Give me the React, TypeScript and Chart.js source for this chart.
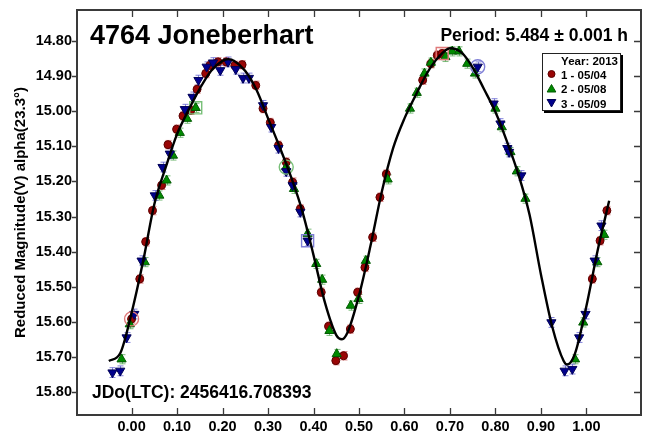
import React, { useEffect, useRef } from "react";
import { Chart, registerables } from "chart.js";

Chart.register(...registerables);

// ---------- axis setup ----------
const X_MIN = -0.12;
const X_MAX = 1.12;
const Y_MIN = 14.711;
const Y_MAX = 15.866;
const X_TICKS = [0, 0.1, 0.2, 0.3, 0.4, 0.5, 0.6, 0.7, 0.8, 0.9, 1.0];
const Y_TICKS = [14.8, 14.9, 15.0, 15.1, 15.2, 15.3, 15.4, 15.5, 15.6, 15.7, 15.8];

// ---------- texts ----------
const TITLE = "4764 Joneberhart";
const PERIOD_TEXT = "Period: 5.484 \u00b1 0.001 h";
const JD_TEXT = "JDo(LTC): 2456416.708393";
const Y_TITLE = "Reduced Magnitude(V) alpha(23.3\u00b0)";
const LEGEND_TITLE = "Year: 2013";
const SERIES_NAMES = ["1 - 05/04", "2 - 05/08", "3 - 05/09"];

// ---------- fitted curve ----------
const CURVE_PHASE = [
  -0.05, -0.025, 0.0, 0.025, 0.05, 0.075, 0.1, 0.125, 0.15, 0.175, 0.2, 0.2125, 0.225, 0.25,
  0.275, 0.3, 0.325, 0.35, 0.375, 0.4, 0.425, 0.45, 0.4625, 0.475, 0.5, 0.525, 0.55, 0.575,
  0.6, 0.625, 0.65, 0.675, 0.7, 0.725, 0.75, 0.775, 0.8, 0.825, 0.85, 0.875, 0.9, 0.925,
  0.95, 0.9575, 0.975, 1.0, 1.025, 1.05,
];
const CURVE_MAG = [
  15.712, 15.69, 15.575, 15.43, 15.265, 15.16, 15.065, 14.997, 14.935, 14.884, 14.856, 14.851,
  14.856, 14.885, 14.94, 15.02, 15.1, 15.185, 15.283, 15.41, 15.545, 15.638, 15.65, 15.63,
  15.525, 15.385, 15.23, 15.105, 15.02, 14.953, 14.89, 14.845, 14.82, 14.832, 14.875, 14.937,
  15.002, 15.085, 15.178, 15.295, 15.465, 15.615, 15.712, 15.722, 15.69, 15.555, 15.395, 15.255,
];

// ---------- series 1 : 05/04 ----------
const S1_PHASE = [
  0.0, 0.018, 0.031, 0.046, 0.066, 0.08, 0.099, 0.113, 0.13, 0.144, 0.163, 0.172, 0.19, 0.208,
  0.227, 0.243, 0.273, 0.289, 0.305, 0.323, 0.34, 0.354, 0.371, 0.417, 0.433, 0.449, 0.466,
  0.481, 0.497, 0.513, 0.53, 0.546, 0.56, 0.64, 0.658, 0.672, 0.683, 1.013, 1.03, 1.045,
];
const S1_MAG = [
  15.592, 15.478, 15.372, 15.283, 15.211, 15.095, 15.051, 15.013, 14.997, 14.937, 14.892, 14.869,
  14.859, 14.859, 14.869, 14.867, 14.926, 14.992, 15.032, 15.097, 15.145, 15.202, 15.278, 15.516,
  15.613, 15.711, 15.697, 15.621, 15.516, 15.445, 15.359, 15.245, 15.179, 14.911, 14.864, 14.84,
  14.835, 15.478, 15.369, 15.283,
];
const S1_ERR = 0.012;

// ---------- series 2 : 05/08 ----------
const S2_PHASE = [
  -0.022, -0.004, 0.029, 0.061, 0.077, 0.091, 0.106, 0.122, 0.141, 0.34, 0.357, 0.387, 0.406,
  0.419, 0.435, 0.451, 0.482, 0.499, 0.515, 0.563, 0.612, 0.627, 0.644, 0.658, 0.69, 0.705,
  0.72, 0.738, 0.755, 0.8, 0.814, 0.833, 0.847, 0.866, 0.975, 0.993, 1.024, 1.039,
];
const S2_MAG = [
  15.707, 15.607, 15.43, 15.24, 15.197, 15.126, 15.061, 15.021, 14.99, 15.159, 15.221, 15.349,
  15.435, 15.48, 15.626, 15.692, 15.554, 15.535, 15.426, 15.194, 14.992, 14.947, 14.892, 14.861,
  14.845, 14.829, 14.829, 14.864, 14.892, 14.992, 15.045, 15.116, 15.171, 15.249, 15.707, 15.602,
  15.43, 15.352,
];
const S2_ERR = 0.013;

// ---------- series 3 : 05/09 ----------
const S3_PHASE = [
  -0.042, -0.025, -0.011, 0.006, 0.022, 0.051, 0.068, 0.084, 0.117, 0.134, 0.147, 0.165, 0.179,
  0.195, 0.212, 0.229, 0.245, 0.258, 0.289, 0.307, 0.323, 0.34, 0.354, 0.371, 0.387, 0.761,
  0.796, 0.811, 0.826, 0.83, 0.857, 0.923, 0.952, 0.969, 0.984, 0.998, 1.018, 1.033,
];
const S3_MAG = [
  15.745, 15.74, 15.645, 15.578, 15.426, 15.24, 15.159, 15.121, 14.994, 14.959, 14.911, 14.873,
  14.861, 14.883, 14.859, 14.88, 14.905, 14.905, 14.983, 15.045, 15.105, 15.171, 15.211, 15.287,
  15.369, 14.873, 14.978, 15.035, 15.105, 15.116, 15.183, 15.602, 15.74, 15.735, 15.645, 15.578,
  15.426, 15.326,
];
const S3_ERR = 0.014;

// ---------- session start/end markers ----------
const RING_PHASE = [0.0, 0.34, 0.761];
const RING_MAG = [15.592, 15.159, 14.873];
const BOX_PHASE = [0.683, 0.141, 0.387];
const BOX_MAG = [14.835, 14.99, 15.369];

const FONT = "'Liberation Sans', Arial, Helvetica, sans-serif";

const COLORS = {
  red: "#990505",
  redEdge: "#5c0000",
  green: "#008a00",
  greenEdge: "#005a00",
  blue: "#00008c",
  blueEdge: "#000055",
  redErr: "rgba(205,90,90,0.75)",
  greenErr: "rgba(80,165,80,0.75)",
  blueErr: "rgba(90,90,205,0.75)",
  redRing: "#e07a7a",
  greenRing: "#78c078",
  blueRing: "#7f7fd6",
};

const zip = (xs: number[], ys: number[]) => xs.map((x, i) => ({ x, y: ys[i] }));

function drawMarker(ctx: CanvasRenderingContext2D, kind: string, x: number, y: number, r: number, fill: string, edge: string) {
  ctx.beginPath();
  if (kind === "circle") {
    ctx.arc(x, y, r, 0, Math.PI * 2);
  } else {
    const a0 = kind === "down" ? Math.PI : 0;
    for (let k = 0; k < 3; k++) {
      const a = a0 + (k * 2 * Math.PI) / 3;
      const px = x + Math.sin(a) * r;
      const py = y - Math.cos(a) * r;
      if (k === 0) ctx.moveTo(px, py);
      else ctx.lineTo(px, py);
    }
    ctx.closePath();
  }
  ctx.fillStyle = fill;
  ctx.fill();
  ctx.lineWidth = 1;
  ctx.strokeStyle = edge;
  ctx.stroke();
}

const errorBars = {
  id: "errorBars",
  beforeDatasetsDraw(chart: any) {
    const { ctx, scales } = chart;
    const ys = scales.y;
    ctx.save();
    chart.data.datasets.forEach((ds: any, i: number) => {
      if (!ds.err) return;
      const meta = chart.getDatasetMeta(i);
      ctx.strokeStyle = ds.errColor;
      ctx.lineWidth = 1;
      meta.data.forEach((el: any, j: number) => {
        const v = ds.data[j].y;
        const y1 = ys.getPixelForValue(v - ds.err);
        const y2 = ys.getPixelForValue(v + ds.err);
        const x = Math.round(el.x) + 0.5;
        ctx.beginPath();
        ctx.moveTo(x, y1);
        ctx.lineTo(x, y2);
        ctx.moveTo(x - 3, y1);
        ctx.lineTo(x + 3, y1);
        ctx.moveTo(x - 3, y2);
        ctx.lineTo(x + 3, y2);
        ctx.stroke();
      });
    });
    ctx.restore();
  },
};

const frameAndText = {
  id: "frameAndText",
  afterDraw(chart: any) {
    const { ctx, chartArea: a, scales } = chart;
    const xs = scales.x;
    const ys = scales.y;
    ctx.save();
    // ticks
    ctx.strokeStyle = "#3a3a3a";
    ctx.lineWidth = 1.3;
    ctx.beginPath();
    xs.ticks.forEach((t: any) => {
      const px = Math.round(xs.getPixelForValue(t.value)) + 0.5;
      ctx.moveTo(px, a.top);
      ctx.lineTo(px, a.top + 7);
      ctx.moveTo(px, a.bottom);
      ctx.lineTo(px, a.bottom - 7);
    });
    ys.ticks.forEach((t: any) => {
      const py = Math.round(ys.getPixelForValue(t.value)) + 0.5;
      ctx.moveTo(a.right, py);
      ctx.lineTo(a.right - 7, py);
      ctx.moveTo(a.left, py);
      ctx.lineTo(a.left - 5, py);
    });
    ctx.stroke();
    // frame
    ctx.lineWidth = 2;
    ctx.strokeStyle = "#3a3a3a";
    ctx.strokeRect(a.left, a.top, a.right - a.left, a.bottom - a.top);

    // texts
    ctx.fillStyle = "#000";
    ctx.textBaseline = "alphabetic";
    ctx.textAlign = "left";
    ctx.font = `bold 27px ${FONT}`;
    ctx.fillText(TITLE, a.left + 13, a.top + 34);
    ctx.textAlign = "right";
    ctx.font = `bold 17.5px ${FONT}`;
    ctx.fillText(PERIOD_TEXT, a.right - 13, a.top + 31);
    ctx.textAlign = "left";
    ctx.font = `bold 17.5px ${FONT}`;
    ctx.fillText(JD_TEXT, a.left + 15, a.bottom - 17);

    // legend
    const lx = a.right - 99;
    const ly = a.top + 43;
    const lw = 79;
    const lh = 58;
    ctx.fillStyle = "#000";
    ctx.fillRect(lx + 2, ly + 2, lw, lh);
    ctx.fillStyle = "#fff";
    ctx.fillRect(lx, ly, lw, lh);
    ctx.strokeStyle = "#222";
    ctx.lineWidth = 1;
    ctx.strokeRect(lx + 0.5, ly + 0.5, lw - 1, lh - 1);
    ctx.fillStyle = "#000";
    ctx.font = `bold 11.5px ${FONT}`;
    ctx.textAlign = "right";
    ctx.fillText(LEGEND_TITLE, lx + lw - 3, ly + 12);
    ctx.textAlign = "left";
    const kinds = ["circle", "up", "down"];
    const fills = [COLORS.red, COLORS.green, COLORS.blue];
    const edges = [COLORS.redEdge, COLORS.greenEdge, COLORS.blueEdge];
    SERIES_NAMES.forEach((name, i) => {
      const cy = ly + 21 + i * 14.5;
      drawMarker(ctx, kinds[i], lx + 9.5, cy + (kinds[i] === "up" ? 1 : kinds[i] === "down" ? -1 : 0), kinds[i] === "circle" ? 3.5 : 5, fills[i], edges[i]);
      ctx.fillStyle = "#000";
      ctx.fillText(name, lx + 19, cy + 4.5);
    });
    ctx.restore();
  },
};

export default function App() {
  const ref = useRef<HTMLCanvasElement>(null);

  useEffect(() => {
    if (!ref.current) return;
    const chart = new Chart(ref.current, {
      type: "scatter",
      data: {
        datasets: [
          {
            label: "fit",
            data: zip(CURVE_PHASE, CURVE_MAG),
            showLine: true,
            borderColor: "#000",
            borderWidth: 2.4,
            pointRadius: 0,
            cubicInterpolationMode: "monotone",
            order: 0,
          } as any,
          {
            label: "rings",
            data: zip(RING_PHASE, RING_MAG),
            pointStyle: "circle",
            pointRadius: 7,
            backgroundColor: "rgba(0,0,0,0)",
            borderColor: [COLORS.redRing, COLORS.greenRing, COLORS.blueRing],
            borderWidth: 1.4,
            order: 1,
          } as any,
          {
            label: "boxes",
            data: zip(BOX_PHASE, BOX_MAG),
            pointStyle: "rect",
            pointRadius: 8.5,
            backgroundColor: "rgba(0,0,0,0)",
            borderColor: [COLORS.redRing, COLORS.greenRing, COLORS.blueRing],
            borderWidth: 1.4,
            order: 1,
          } as any,
          {
            label: SERIES_NAMES[0],
            data: zip(S1_PHASE, S1_MAG),
            pointStyle: "circle",
            pointRadius: 4,
            backgroundColor: COLORS.red,
            borderColor: COLORS.redEdge,
            borderWidth: 1,
            err: S1_ERR,
            errColor: COLORS.redErr,
            order: 4,
          } as any,
          {
            label: SERIES_NAMES[1],
            data: zip(S2_PHASE, S2_MAG),
            pointStyle: "triangle",
            pointRadius: 5.3,
            backgroundColor: COLORS.green,
            borderColor: COLORS.greenEdge,
            borderWidth: 1,
            err: S2_ERR,
            errColor: COLORS.greenErr,
            order: 3,
          } as any,
          {
            label: SERIES_NAMES[2],
            data: zip(S3_PHASE, S3_MAG),
            pointStyle: "triangle",
            rotation: 180,
            pointRadius: 5.3,
            backgroundColor: COLORS.blue,
            borderColor: COLORS.blueEdge,
            borderWidth: 1,
            err: S3_ERR,
            errColor: COLORS.blueErr,
            order: 2,
          } as any,
        ],
      },
      options: {
        animation: false,
        responsive: false,
        maintainAspectRatio: false,
        layout: { padding: { top: 10, right: 4, left: 0, bottom: 0 }, autoPadding: false } as any,
        plugins: {
          legend: { display: false },
          tooltip: { enabled: false },
        },
        scales: {
          x: {
            type: "linear",
            min: X_MIN,
            max: X_MAX,
            afterBuildTicks: (s: any) => {
              s.ticks = X_TICKS.map((v) => ({ value: v }));
            },
            afterFit: (s: any) => {
              s.height = 20;
              s.paddingLeft = 0;
              s.paddingRight = 0;
            },
            grid: { display: false, drawTicks: false },
            border: { display: false },
            ticks: {
              padding: 3,
              color: "#000",
              font: { family: FONT, size: 14.5, weight: "bold" },
              callback: (v: any) => Number(v).toFixed(2),
              maxRotation: 0,
              autoSkip: false,
            },
          },
          y: {
            type: "linear",
            reverse: true,
            min: Y_MIN,
            max: Y_MAX,
            afterBuildTicks: (s: any) => {
              s.ticks = Y_TICKS.map((v) => ({ value: v }));
            },
            afterFit: (s: any) => {
              s.width = 77;
              s.paddingTop = 0;
              s.paddingBottom = 0;
            },
            grid: { display: false, drawTicks: false },
            border: { display: false },
            title: {
              display: true,
              text: Y_TITLE,
              color: "#000",
              font: { family: FONT, size: 15, weight: "bold" },
              padding: { top: 12, bottom: 0 },
            },
            ticks: {
              padding: 5,
              color: "#000",
              font: { family: FONT, size: 14.5, weight: "bold" },
              callback: (v: any) => Number(v).toFixed(2),
              autoSkip: false,
            },
          },
        },
      } as any,
      plugins: [errorBars, frameAndText],
    });
    return () => chart.destroy();
  }, []);

  return (
    <div style={{ position: "fixed", left: 0, top: 0, width: 645, height: 435, background: "#fff" }}>
      <canvas ref={ref} width={645} height={435} style={{ display: "block", width: 645, height: 435 }} />
    </div>
  );
}
